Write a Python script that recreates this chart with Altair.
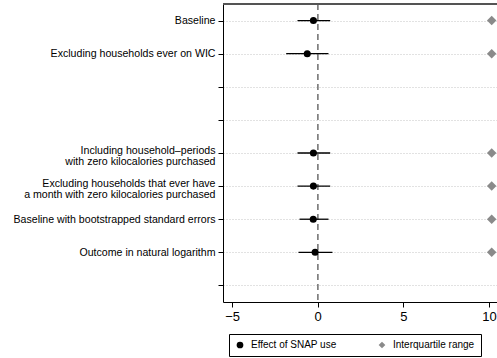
import json
import altair as alt
import pandas as pd

# Specification labels, one per row of the y axis (blank rows are spacers)
spec_labels = [
    "Baseline",
    "Excluding households ever on WIC",
    "",
    "",
    "Including household–periods|with zero kilocalories purchased",
    "Excluding households that ever have|a month with zero kilocalories purchased",
    "Baseline with bootstrapped standard errors",
    "Outcome in natural logarithm",
    "",
]

# Rows that carry an estimate
est_rows = [1, 2, 5, 6, 7, 8]
effect = [-0.25, -0.61, -0.25, -0.25, -0.26, -0.15]
ci_low = [-1.18, -1.84, -1.18, -1.18, -1.06, -1.12]
ci_high = [0.73, 0.63, 0.73, 0.73, 0.63, 0.86]
iqr = [10.16, 10.16, 10.16, 10.16, 10.16, 10.16]

series_names = ["Effect of SNAP use", "Interquartile range"]
x_ticks = [-5, 0, 5, 10]

W, H = 274, 298
FONT = "Liberation Sans"

ci_df = pd.DataFrame({"row": est_rows, "lo": ci_low, "hi": ci_high})
pts_df = pd.concat(
    [
        pd.DataFrame({"row": est_rows, "value": effect, "series": series_names[0]}),
        pd.DataFrame({"row": est_rows, "value": iqr, "series": series_names[1]}),
    ],
    ignore_index=True,
)

labels_js = json.dumps(spec_labels, ensure_ascii=False)
label_expr = "split({}[datum.value - 1], '|')".format(labels_js)
# two-line labels sit slightly above their tick
multiline_test = "indexof({}[datum.value - 1], '|') >= 0".format(labels_js)

x_scale = alt.Scale(domain=[-5.53, 10.47], nice=False, zero=False)
y_scale = alt.Scale(domain=[0.5, 9.5], reverse=True, nice=False, zero=False)

x_axis = alt.Axis(
    values=x_ticks, grid=False, title=None, domainColor="black", tickColor="black",
    tickSize=5, labelFontSize=13, labelFont=FONT, labelColor="black",
    labelPadding=3, labelFlush=False, labelOverlap=False,
)
y_axis = alt.Axis(
    values=list(range(1, 10)), labelExpr=label_expr, title=None,
    grid=True, gridColor="#c4c4c4", gridDash=[1, 2], gridWidth=1,
    domainColor="black", tickColor="black", tickSize=5,
    labelFontSize=10.6, labelFont=FONT, labelColor="black",
    labelLimit=260, labelPadding=3, labelLineHeight=10.5,
    labelOverlap=False, labelFlush=False,
    labelOffset={"condition": {"test": multiline_test, "value": -2.5}, "value": 0},
)


def xq(field):
    return alt.X(field, type="quantitative", scale=x_scale, axis=x_axis)


def yq(field):
    return alt.Y(field, type="quantitative", scale=y_scale, axis=y_axis)


zero_line = alt.Chart(ci_df).mark_rule(
    color="#808080", strokeDash=[6, 4], strokeWidth=1
).encode(x=alt.X(datum=0, type="quantitative", scale=x_scale, axis=x_axis))

top_border = alt.Chart(ci_df).mark_rule(color="#555555", strokeWidth=1.5).encode(
    x=alt.value(0), x2=alt.value(W), y=alt.value(0)
)

ci_bars = alt.Chart(ci_df).mark_rule(color="black", strokeWidth=1.3).encode(
    x=xq("lo"), x2="hi:Q", y=yq("row")
)

points = alt.Chart(pts_df).mark_point(filled=True, opacity=1, strokeWidth=0).encode(
    x=xq("value"),
    y=yq("row"),
    color=alt.Color(
        "series:N",
        scale=alt.Scale(domain=series_names, range=["black", "#8a8a8a"]),
        legend=alt.Legend(
            title=None, orient="none", legendX=6, legendY=330,
            direction="horizontal", columns=2, gridAlign="all",
            strokeColor="black", padding=6, cornerRadius=0,
            labelFontSize=10, labelFont=FONT, labelColor="black",
            symbolSize=45, symbolStrokeWidth=0, labelOffset=6,
            columnPadding=40,
        ),
    ),
    shape=alt.Shape(
        "series:N",
        scale=alt.Scale(domain=series_names, range=["circle", "diamond"]),
    ),
    size=alt.condition(
        alt.datum.series == series_names[0], alt.value(50), alt.value(90)
    ),
)

chart = (
    alt.layer(zero_line, ci_bars, points, top_border)
    .properties(
        width=W, height=H,
        autosize=alt.AutoSizeParams(type="none"),
        padding={"left": 223, "top": 4, "right": 0, "bottom": 56},
        background="white",
    )
    .configure_view(stroke=None)
)

chart.save("out.html", embed_options={"renderer": "svg", "actions": False})
